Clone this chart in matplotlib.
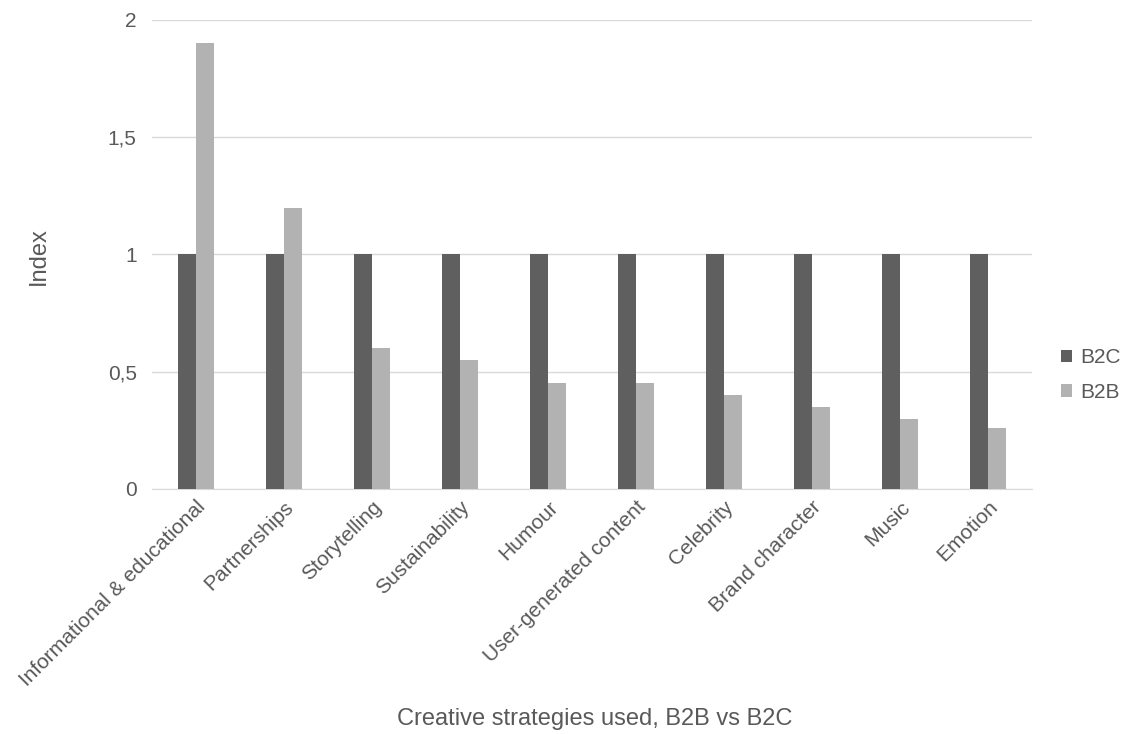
import numpy as np
import matplotlib
matplotlib.use("Agg")
import matplotlib.pyplot as plt
from matplotlib.ticker import FuncFormatter

plt.rcParams["font.family"] = ["Liberation Sans", "DejaVu Sans"]

categories = [
    "Informational & educational",
    "Partnerships",
    "Storytelling",
    "Sustainability",
    "Humour",
    "User-generated content",
    "Celebrity",
    "Brand character",
    "Music",
    "Emotion",
]
b2c = [1, 1, 1, 1, 1, 1, 1, 1, 1, 1]
b2b = [1.90, 1.20, 0.60, 0.55, 0.45, 0.45, 0.40, 0.35, 0.30, 0.26]

TEXT = "#595959"
GRID = "#d9d9d9"

fig = plt.figure(figsize=(11.26, 7.34), dpi=100)
ax = fig.add_axes([0.135, 0.3338, 0.7815, 0.639])

x = np.arange(len(categories))
w = 0.205
ax.bar(x - w / 2, b2c, w, color="#5f5f5f", label="B2C", zorder=3)
ax.bar(x + w / 2, b2b, w, color="#b2b2b2", label="B2B", zorder=3)

ax.set_xlim(-0.5, len(categories) - 0.5)
ax.set_ylim(0, 2)
ax.set_yticks([0, 0.5, 1, 1.5, 2])
ax.yaxis.set_major_formatter(FuncFormatter(lambda v, _: f"{v:g}".replace(".", ",")))
ax.grid(axis="y", color=GRID, linewidth=1, zorder=0)

for s in ["top", "right", "left"]:
    ax.spines[s].set_visible(False)
ax.spines["bottom"].set_color(GRID)
ax.tick_params(axis="both", length=0, labelsize=15, colors=TEXT)
ax.tick_params(axis="y", pad=11)
ax.tick_params(axis="x", pad=6)

ax.set_xticks(x)
ax.set_xticklabels(categories, rotation=45, ha="right", rotation_mode="anchor")

# axis titles placed in figure coordinates
fig.text(39 / 1126, 1 - 256 / 734, "Index", fontsize=17, color=TEXT,
         rotation=90, ha="center", va="center")
fig.text(595 / 1126, 1 - 719 / 734, "Creative strategies used, B2B vs B2C",
         fontsize=17, color=TEXT, ha="center", va="center")

fig.legend(*ax.get_legend_handles_labels(), loc="center left",
           bbox_to_anchor=(1061 / 1126, 1 - 375 / 734), frameon=False,
           borderaxespad=0, borderpad=0,
           fontsize=15, labelcolor=TEXT, handlelength=0.55, handleheight=0.55,
           handletextpad=0.35, labelspacing=0.75)

fig.savefig("out.png", dpi=100)
